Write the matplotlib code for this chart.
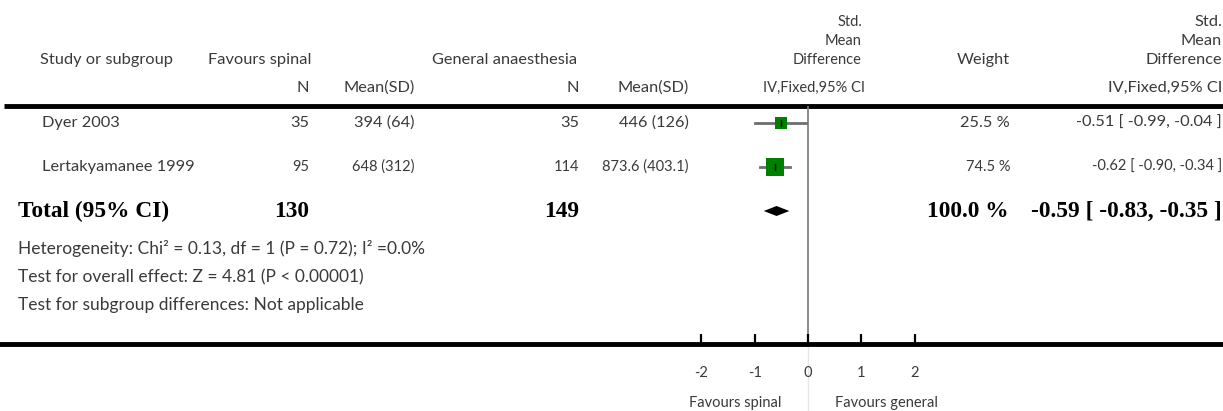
import matplotlib
matplotlib.use("Agg")
import matplotlib.pyplot as plt

# ---- data -------------------------------------------------------------
studies = ["Dyer 2003", "Lertakyamanee 1999"]
spinal_n = [35, 95]
spinal_mean_sd = ["394 (64)", "648 (312)"]
general_n = [35, 114]
general_mean_sd = ["446 (126)", "873.6 (403.1)"]
smd = [-0.51, -0.62]
ci_low = [-0.99, -0.90]
ci_high = [-0.04, -0.34]
weights = [25.5, 74.5]

total_spinal_n = 130
total_general_n = 149
total_smd = -0.59
total_low = -0.83
total_high = -0.35
total_weight = 100.0

heterogeneity = "Heterogeneity: Chi² = 0.13, df = 1 (P = 0.72); I² =0.0%"
overall = "Test for overall effect: Z = 4.81 (P < 0.00001)"
subgroup = "Test for subgroup differences: Not applicable"
axis_ticks = [-2, -1, 0, 1, 2]
favours_left = "Favours spinal"
favours_right = "Favours general"

# ---- layout -----------------------------------------------------------
W, H = 1223, 411
fig = plt.figure(figsize=(W / 100, H / 100), dpi=100)

# text layer in pixel coordinates
tx = fig.add_axes([0, 0, 1, 1])
tx.set_xlim(0, W)
tx.set_ylim(H, 0)
tx.axis("off")

SANS = dict(family=["Lato", "DejaVu Sans"], fontweight="normal", color="#3a3a3a")
BOLD = dict(family=["Liberation Serif", "DejaVu Serif"], fontweight="bold", color="#000000")
FS = 11.8
FS_C = 10.5   # tighter columns
FS_F = 12.5   # footnotes
FS_B = 16.8


def t(x, y, s, ha="left", size=FS, style=SANS):
    tx.text(x, y, s, ha=ha, va="center", fontsize=size, **style)


# header
t(40, 60, "Study or subgroup")
t(208, 60, "Favours spinal")
t(432, 60, "General anaesthesia")
for y, s in zip([22, 41, 60], ["Std.", "Mean", "Difference"]):
    t(862, y, s, ha="right", size=FS_C)
    t(1222, y, s, ha="right")
t(1010, 60, "Weight", ha="right")
t(309, 88, "N", ha="right")
t(415, 88, "Mean(SD)", ha="right")
t(579, 88, "N", ha="right")
t(689, 88, "Mean(SD)", ha="right")
t(865, 88, "IV,Fixed,95% CI", ha="right", size=FS_C)
t(1222, 88, "IV,Fixed,95% CI", ha="right")
tx.plot([4, W], [106, 106], color="black", lw=3.5, solid_capstyle="butt")

# study rows
row_y = [123, 167]
for i, y in enumerate(row_y):
    size = FS if i == 0 else FS_C
    t(42, y, studies[i])
    t(309, y, str(spinal_n[i]), ha="right", size=size)
    t(415, y, spinal_mean_sd[i], ha="right", size=size)
    t(579, y, str(general_n[i]), ha="right", size=size)
    t(689, y, general_mean_sd[i], ha="right", size=size)
    t(1010, y, f"{weights[i]:.1f} %", ha="right", size=size)
    t(1222, y, f"{smd[i]:.2f} [ {ci_low[i]:.2f}, {ci_high[i]:.2f} ]",
      ha="right", size=size)

# total row
total_y = 211
t(18, total_y, "Total (95% CI)", size=FS_B, style=BOLD)
t(309, total_y, str(total_spinal_n), ha="right", size=FS_B, style=BOLD)
t(579, total_y, str(total_general_n), ha="right", size=FS_B, style=BOLD)
t(1009, total_y, f"{total_weight:.1f} %", ha="right", size=FS_B, style=BOLD)
t(1222, total_y, f"{total_smd:.2f} [ {total_low:.2f}, {total_high:.2f} ]",
  ha="right", size=FS_B, style=BOLD)

t(18, 248, heterogeneity, size=FS_F)
t(18, 277, overall, size=FS_F)
t(18, 305, subgroup, size=FS_F)

# faint continuation of the null line below the axis
tx.plot([808, 808], [344, H], color="#e6e6e6", lw=1)

# ---- forest plot axes -------------------------------------------------
zero_px, unit_px = 808, 53.3
axis_y, top_y = 344, 106
fa = fig.add_axes([0, (H - axis_y) / H, 1, (axis_y - top_y) / H])
fa.patch.set_alpha(0)
fa.set_xlim(-zero_px / unit_px, (W - zero_px) / unit_px)
fa.set_ylim(axis_y, top_y)
for side in ("top", "left", "right"):
    fa.spines[side].set_visible(False)
fa.spines["bottom"].set_linewidth(3.5)
fa.set_yticks([])
fa.set_xticks(axis_ticks)
fa.set_xticklabels([str(v) if v >= 0 else "-" + str(-v) for v in axis_ticks])
fa.tick_params(axis="x", direction="in", length=7, width=1.6, pad=16,
               labelsize=FS_C, labelcolor="#3a3a3a")
for lab in fa.get_xticklabels():
    lab.set_family(["Lato", "DejaVu Sans"])

fa.axvline(0, color="#777777", lw=1.2, zorder=1)

for i, y in enumerate(row_y):
    fa.plot([ci_low[i], ci_high[i]], [y, y], color="#6e6e6e", lw=2, zorder=2)
    fa.plot([smd[i]], [y], marker="s", linestyle="none",
            markersize=1.58 * weights[i] ** 0.5, color="#008000",
            markeredgewidth=0, zorder=3)
    fa.plot([smd[i], smd[i]], [y - 3, y + 3], color="black", lw=1, zorder=4)

fa.fill([total_low, total_smd, total_high, total_smd],
        [total_y, total_y - 5, total_y, total_y + 5],
        color="black", lw=0, zorder=3)

tx.text(781, 403, favours_left, ha="right", va="center", fontsize=FS_C, **SANS)
tx.text(835, 403, favours_right, ha="left", va="center", fontsize=FS_C, **SANS)

fig.savefig("out.png", dpi=100)
